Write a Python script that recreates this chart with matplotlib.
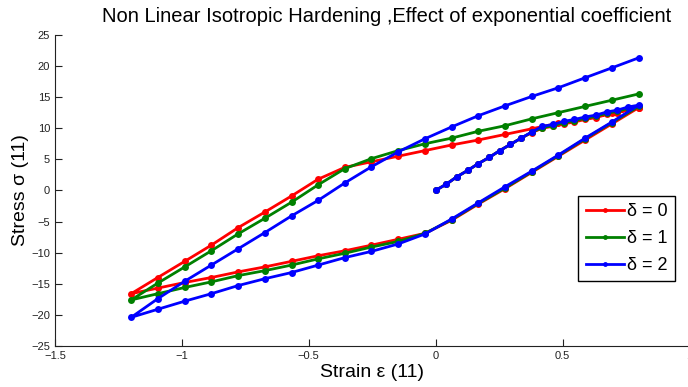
import matplotlib
matplotlib.use("Agg")
import matplotlib.pyplot as plt

# strain grid for the three load steps
load_strain = [0.0, 0.042, 0.084, 0.126, 0.168, 0.211, 0.253, 0.295, 0.337, 0.379,
               0.421, 0.463, 0.505, 0.547, 0.589, 0.632, 0.674, 0.716, 0.758, 0.8]
unload_strain = [0.8, 0.695, 0.589, 0.484, 0.379, 0.274, 0.168, 0.063, -0.042, -0.147,
                 -0.253, -0.358, -0.463, -0.568, -0.674, -0.779, -0.884, -0.989, -1.095, -1.2]
reload_strain = unload_strain[::-1]

# stress, delta = 0
load_d0 = [0.0, 1.0, 2.2, 3.2, 4.3, 5.3, 6.4, 7.4, 8.4, 9.3,
           10.0, 10.3, 10.7, 11.0, 11.4, 11.7, 12.2, 12.5, 12.9, 13.3]
unload_d0 = [13.3, 10.7, 8.1, 5.5, 2.9, 0.3, -2.2, -4.8, -6.9, -7.85,
             -8.8, -9.7, -10.5, -11.4, -12.3, -13.1, -14.0, -14.8, -15.7, -16.6]
reload_d0 = [-16.6, -14.0, -11.4, -8.8, -6.0, -3.5, -0.9, 1.8, 3.7, 4.6,
             5.5, 6.4, 7.3, 8.1, 9.0, 9.9, 10.8, 11.6, 12.4, 13.3]

# stress, delta = 1
load_d1 = [0.0, 1.0, 2.2, 3.2, 4.3, 5.3, 6.4, 7.4, 8.4, 9.35,
           10.1, 10.4, 10.9, 11.2, 11.6, 11.9, 12.4, 12.7, 13.2, 13.5]
unload_d1 = [13.5, 10.9, 8.3, 5.6, 3.0, 0.4, -2.1, -4.7, -6.9, -8.2,
             -9.1, -10.1, -11.0, -12.0, -12.9, -13.7, -14.7, -15.6, -16.6, -17.6]
reload_d1 = [-17.6, -14.9, -12.3, -9.7, -7.0, -4.5, -1.9, 0.9, 3.5, 5.1,
             6.4, 7.5, 8.4, 9.5, 10.4, 11.5, 12.5, 13.5, 14.5, 15.5]

# stress, delta = 2
load_d2 = [0.0, 1.0, 2.2, 3.2, 4.3, 5.3, 6.4, 7.4, 8.4, 9.4,
           10.3, 10.6, 11.1, 11.4, 11.8, 12.1, 12.6, 12.9, 13.4, 13.7]
unload_d2 = [13.7, 11.0, 8.4, 5.7, 3.1, 0.6, -2.0, -4.6, -7.0, -8.6,
             -9.8, -10.8, -12.0, -13.2, -14.2, -15.3, -16.6, -17.8, -19.1, -20.4]
reload_d2 = [-20.4, -17.4, -14.6, -12.0, -9.4, -6.8, -4.1, -1.6, 1.2, 3.8,
             6.2, 8.3, 10.2, 12.0, 13.6, 15.1, 16.5, 18.1, 19.7, 21.3]

labels = ["\u03b4 = 0", "\u03b4 = 1", "\u03b4 = 2"]
colors = ["#ff0000", "#008000", "#0000ff"]

strain = load_strain + unload_strain[1:] + reload_strain[1:]
series = [load_d0 + unload_d0[1:] + reload_d0[1:],
          load_d1 + unload_d1[1:] + reload_d1[1:],
          load_d2 + unload_d2[1:] + reload_d2[1:]]

plt.rcParams['font.family'] = ['Liberation Sans', 'DejaVu Sans']

fig = plt.figure(figsize=(6.88, 3.87), dpi=100)
ax = fig.add_axes([0.080, 0.106, 0.922, 0.804])

for s, c, lab in zip(series, colors, labels):
    ax.plot(strain, s, color=c, linewidth=2, marker='o', markersize=5,
            markeredgewidth=0, label=lab)

ax.set_xlim(-1.5, 1)
ax.set_ylim(-25, 25)
ax.set_xticks([-1.5, -1, -0.5, 0, 0.5, 1])
ax.set_xticklabels(["\u22121.5", "\u22121", "\u22120.5", "0", "0.5", "1"])
ax.set_yticks(range(-25, 26, 5))
ax.tick_params(direction='in', length=5, width=0.8, labelsize=8, colors='#222222')
for side in ('top', 'right'):
    ax.spines[side].set_visible(False)
for side in ('left', 'bottom'):
    ax.spines[side].set_color('#222222')
    ax.spines[side].set_linewidth(0.8)

ax.set_title("Non Linear Isotropic Hardening ,Effect of exponential coefficient",
             fontsize=14.5, pad=9, x=0.522)
ax.set_xlabel("Strain \u03b5 (11)", fontsize=14, labelpad=2)
ax.set_ylabel("Stress \u03c3 (11)", fontsize=14, labelpad=2)

leg = ax.legend(loc='upper left', bbox_to_anchor=(0.825, 0.482), borderaxespad=0,
                fontsize=13, frameon=True, fancybox=False, edgecolor='black',
                framealpha=1, handlelength=2.1, labelspacing=0.55, borderpad=0.4,
                handletextpad=0.2, markerscale=0.7)
leg.get_frame().set_linewidth(1.0)

fig.savefig("out.png", dpi=100)
